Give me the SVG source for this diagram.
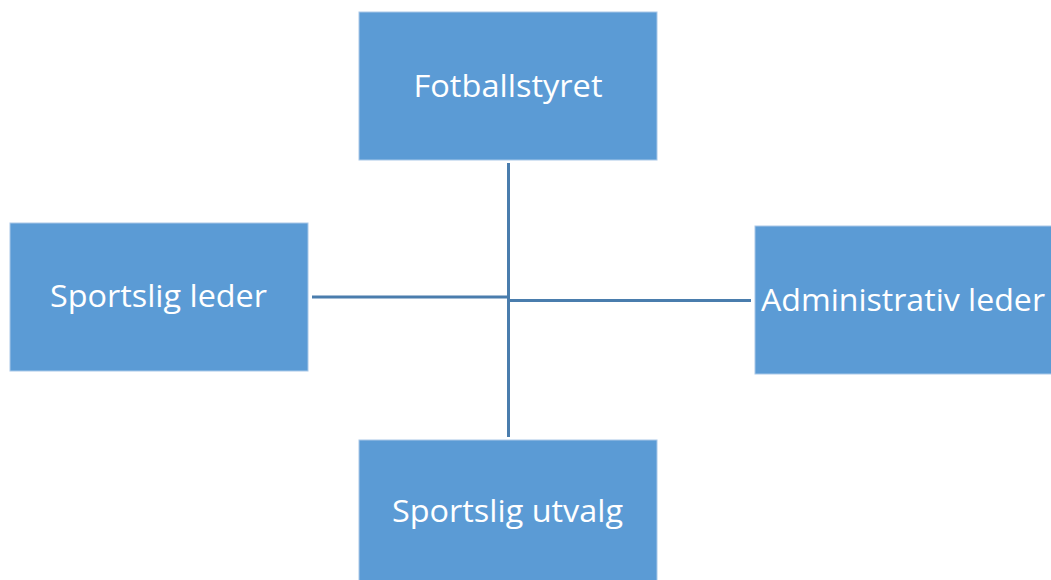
<svg xmlns="http://www.w3.org/2000/svg" width="1051" height="580" viewBox="0 0 1051 580">
<style>
.box{fill:#5B9BD5;stroke:#A9C8E8;stroke-width:1}
.lbl{fill:#FFFFFF;font-family:"Open Sans","Liberation Sans",sans-serif;font-size:31px}
.con{stroke:#4A7DAD;stroke-width:3;fill:none}
</style>
<rect width="1051" height="580" fill="#FFFFFF"/>
<g id="connectors">
<line class="con" x1="508.5" y1="163" x2="508.5" y2="437"/>
<line class="con" x1="312" y1="297" x2="508.5" y2="297"/>
<line class="con" x1="508.5" y1="300.5" x2="751" y2="300.5"/>
</g>
<g id="node-fotballstyret">
<rect class="box" x="359" y="12" width="298" height="148"/>
<text class="lbl" x="508" y="97" text-anchor="middle" textLength="189" lengthAdjust="spacingAndGlyphs">Fotballstyret</text>
</g>
<g id="node-sportslig-leder">
<rect class="box" x="10" y="223" width="298" height="148"/>
<text class="lbl" x="158.5" y="307" text-anchor="middle" textLength="217" lengthAdjust="spacingAndGlyphs">Sportslig leder</text>
</g>
<g id="node-administrativ-leder">
<rect class="box" x="755" y="226" width="298" height="148"/>
<text class="lbl" x="903" y="311" text-anchor="middle" textLength="284" lengthAdjust="spacingAndGlyphs">Administrativ leder</text>
</g>
<g id="node-sportslig-utvalg">
<rect class="box" x="359" y="440" width="298" height="148"/>
<text class="lbl" x="507.5" y="522" text-anchor="middle" textLength="231" lengthAdjust="spacingAndGlyphs">Sportslig utvalg</text>
</g>
</svg>
